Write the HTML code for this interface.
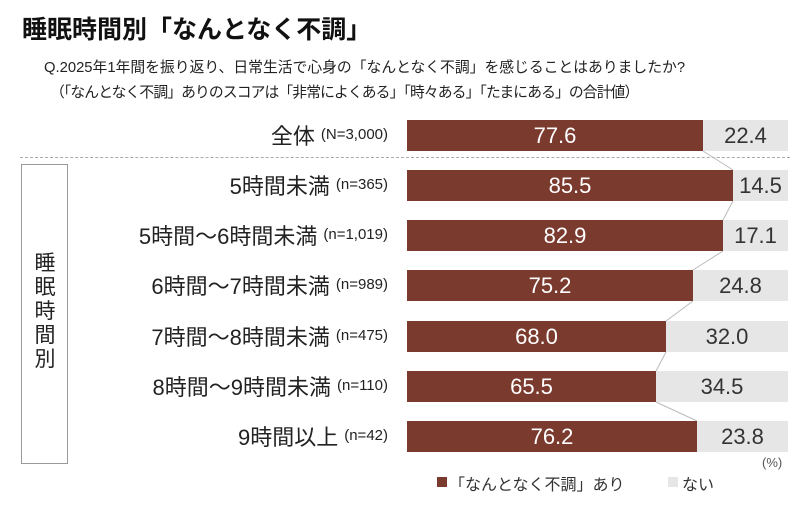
<!DOCTYPE html>
<html><head><meta charset="utf-8"><style>
body{margin:0;width:800px;height:508px;background:#fff;font-family:"Liberation Sans","Noto Sans CJK JP",sans-serif;position:relative;overflow:hidden;color:#222}
.a{position:absolute;white-space:nowrap}
.lab{position:absolute;right:412px;font-size:22px;line-height:32px;color:#222}
.lab small{font-size:15px;vertical-align:5px;margin-left:6px}
.b{position:absolute;height:31px;font-size:22px;line-height:31px;text-align:center}
.r{background:#7b3a2e;color:#fff}
.g{background:#e6e6e6;color:#333}
</style></head><body>
<div class="a" style="left:22px;top:10px;font-size:25px;font-weight:bold;color:#111">睡眠時間別「なんとなく不調」</div>
<div class="a" style="left:44px;top:56px;font-size:14.8px">Q.2025年1年間を振り返り、日常生活で心身の「なんとなく不調」を感じることはありましたか?</div>
<div class="a" style="left:50px;top:81px;font-size:14.8px;letter-spacing:-0.9px">（「なんとなく不調」ありのスコアは「非常によくある」「時々ある」「たまにある」の合計値）</div>
<div class="a" style="left:20px;top:157px;width:770px;border-top:1px dashed #aaa"></div>
<div class="a" style="left:21px;top:164px;width:47px;height:300px;border:1px solid #999;box-sizing:border-box"></div>
<div class="a" style="left:32px;top:252px;width:26px;font-size:21px;line-height:24px;white-space:normal;text-align:center">睡眠時間別</div>
<svg class="a" style="left:0;top:0" width="800" height="508">
<g stroke="#bbb" stroke-width="1">
<line x1="703" y1="151" x2="733" y2="170"/>
<line x1="733" y1="201" x2="723" y2="220"/>
<line x1="723" y1="251" x2="693" y2="270"/>
<line x1="693" y1="301" x2="666" y2="321"/>
<line x1="666" y1="352" x2="656" y2="371"/>
<line x1="656" y1="402" x2="697" y2="421"/>
</g></svg>
<div class="lab" style="top:119px">全体<small>(N=3,000)</small></div>
<div class="b r" style="left:407px;top:120px;width:296px">77.6</div><div class="b g" style="left:703px;top:120px;width:85px">22.4</div>
<div class="lab" style="top:169px">5時間未満<small>(n=365)</small></div>
<div class="b r" style="left:407px;top:170px;width:326px">85.5</div><div class="b g" style="left:733px;top:170px;width:55px">14.5</div>
<div class="lab" style="top:219px">5時間～6時間未満<small>(n=1,019)</small></div>
<div class="b r" style="left:407px;top:220px;width:316px">82.9</div><div class="b g" style="left:723px;top:220px;width:65px">17.1</div>
<div class="lab" style="top:269px">6時間～7時間未満<small>(n=989)</small></div>
<div class="b r" style="left:407px;top:270px;width:286px">75.2</div><div class="b g" style="left:693px;top:270px;width:95px">24.8</div>
<div class="lab" style="top:320px">7時間～8時間未満<small>(n=475)</small></div>
<div class="b r" style="left:407px;top:321px;width:259px">68.0</div><div class="b g" style="left:666px;top:321px;width:122px">32.0</div>
<div class="lab" style="top:370px">8時間～9時間未満<small>(n=110)</small></div>
<div class="b r" style="left:407px;top:371px;width:249px">65.5</div><div class="b g" style="left:656px;top:371px;width:132px">34.5</div>
<div class="lab" style="top:420px">9時間以上<small>(n=42)</small></div>
<div class="b r" style="left:407px;top:421px;width:290px">76.2</div><div class="b g" style="left:697px;top:421px;width:91px">23.8</div>
<div class="a" style="left:762px;top:455px;font-size:13px;color:#555">(%)</div>
<div class="a" style="left:437px;top:477px;width:10px;height:10px;background:#7b3a2e"></div>
<div class="a" style="left:449px;top:471px;font-size:16px;color:#333">「なんとなく不調」あり</div>
<div class="a" style="left:668px;top:477px;width:10px;height:10px;background:#e6e6e6"></div>
<div class="a" style="left:682px;top:471px;font-size:16px;color:#333">ない</div>
</body></html>
